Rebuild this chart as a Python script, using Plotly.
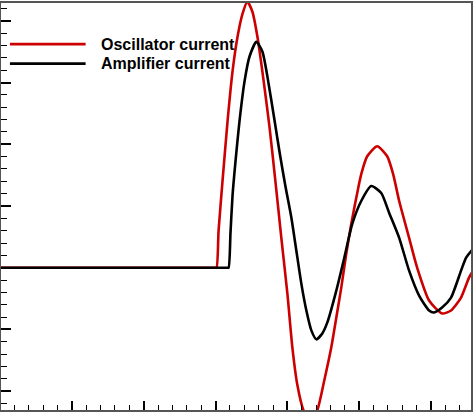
import plotly.graph_objects as go

# time axis (arbitrary units) and currents (arbitrary units)
osc_t = [0.0, 2.9, 2.99, 3.014, 3.042, 3.097, 3.167, 3.236, 3.306, 3.375, 3.444, 3.514, 3.583, 3.667,
         3.75, 3.833, 3.917, 4.0, 4.069, 4.139, 4.222, 4.319, 4.417, 4.514, 4.611, 4.681,
         4.75, 4.819, 4.889, 4.958, 5.028, 5.111, 5.25, 5.389, 5.472, 5.556, 5.694,
         5.806, 5.972, 6.153, 6.278, 6.417, 6.528, 6.583]
osc_i = [0.0, 0.0, 0.0, 0.0, 0.597, 1.403, 2.371, 3.177, 3.742, 4.113, 4.31, 4.145, 3.742, 3.048,
         2.290, 1.403, 0.468, -0.419, -1.290, -1.903, -2.306, -2.5, -2.306, -1.823, -1.290, -0.806,
         -0.323, 0.226, 0.710, 1.129, 1.516, 1.806, 1.968, 1.806, 1.516, 1.081, 0.484,
         0.0, -0.532, -0.742, -0.694, -0.484, -0.161, -0.048]

amp_t = [0.0, 3.05, 3.16, 3.181, 3.208, 3.236, 3.278, 3.333, 3.403, 3.472, 3.569, 3.653, 3.722, 3.819,
         3.889, 3.972, 4.056, 4.125, 4.194, 4.264, 4.333, 4.403, 4.486, 4.556, 4.681, 4.792, 4.903, 5.028,
         5.167, 5.306, 5.417, 5.556, 5.694, 5.833, 5.972, 6.042, 6.153, 6.278, 6.417, 6.486, 6.583]
amp_i = [0.0, 0.0, 0.0, 0.0, 0.565, 1.161, 1.726, 2.371, 3.016, 3.419, 3.661, 3.5, 3.097, 2.403,
         1.887, 1.323, 0.806, 0.274, -0.258, -0.694, -1.016, -1.161, -1.065, -0.887, -0.371, 0.161, 0.710, 1.081,
         1.323, 1.210, 0.887, 0.484, -0.048, -0.452, -0.694, -0.726, -0.645, -0.484, -0.048, 0.161, 0.306]

series_names = ["Oscillator current", "Amplifier current"]
series_colors = ["#cc0000", "#000000"]

fig = go.Figure()
fig.add_trace(go.Scatter(x=osc_t, y=osc_i, mode="lines", name=series_names[0],
                         line=dict(color=series_colors[0], width=2.6, shape="spline", smoothing=0.6)))
fig.add_trace(go.Scatter(x=amp_t, y=amp_i, mode="lines", name=series_names[1],
                         line=dict(color=series_colors[1], width=2.6, shape="spline", smoothing=0.6)))

# manual legend (long line samples)
leg_y = [0.899, 0.851]
for k in range(2):
    fig.add_shape(type="line", xref="paper", yref="paper", x0=0.019, x1=0.180,
                  y0=leg_y[k], y1=leg_y[k], line=dict(color=series_colors[k], width=2.6))
    fig.add_annotation(xref="paper", yref="paper", x=0.208, y=leg_y[k], text=series_names[k],
                       showarrow=False, xanchor="left", yanchor="middle",
                       font=dict(family="Liberation Sans, Arial", size=16, color="#000", weight="bold"))

fig.update_layout(
    width=474, height=412, showlegend=False,
    margin=dict(l=1, r=2, t=1, b=2),
    paper_bgcolor="white", plot_bgcolor="white",
    xaxis=dict(range=[1/72, 472/72], showgrid=False, zeroline=False, showticklabels=False,
               tickmode="linear", tick0=0, dtick=1, ticks="inside", ticklen=9, tickwidth=2,
               tickcolor="#000", showline=True, linecolor="#555", linewidth=2, mirror=True,
               minor=dict(ticks="inside", ticklen=5, tickwidth=1, tickcolor="#000", dtick=0.2, showgrid=False)),
    yaxis=dict(range=[(267-410)/62, (267-1)/62], showgrid=False, zeroline=False, showticklabels=False,
               tickmode="linear", tick0=0, dtick=1, ticks="inside", ticklen=10, tickwidth=2,
               tickcolor="#000", showline=True, linecolor="#555", linewidth=2, mirror=True,
               minor=dict(ticks="inside", ticklen=6, tickwidth=1, tickcolor="#000", dtick=0.2, showgrid=False)),
)
fig.write_html("out.html", config={"displayModeBar": False},
               post_script="document.body.style.margin='0';")
